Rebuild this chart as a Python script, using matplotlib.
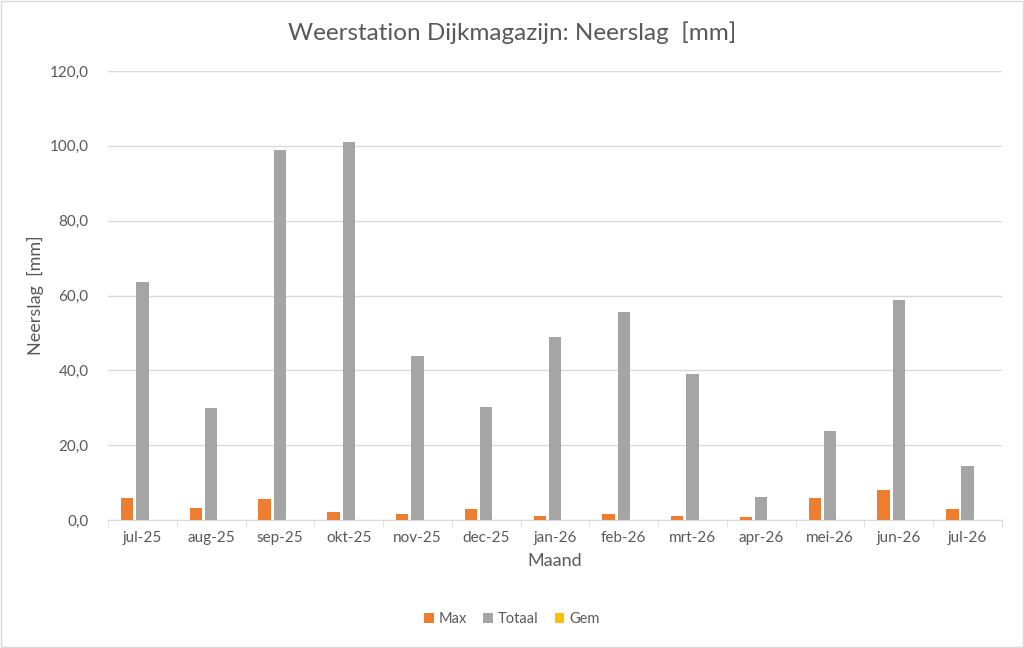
import matplotlib
matplotlib.use("Agg")
import matplotlib.pyplot as plt
import numpy as np
from matplotlib.ticker import FuncFormatter, FixedLocator
from matplotlib.patches import Rectangle

months = ["jul-25", "aug-25", "sep-25", "okt-25", "nov-25", "dec-25", "jan-26",
          "feb-26", "mrt-26", "apr-26", "mei-26", "jun-26", "jul-26"]
max_vals = [6.0, 3.2, 5.7, 2.2, 1.5, 3.0, 1.1, 1.5, 1.1, 0.7, 6.0, 7.9, 3.0]
totaal_vals = [63.7, 29.8, 99.0, 100.9, 43.7, 30.3, 49.0, 55.7, 38.9, 6.2, 23.9, 58.9, 14.4]
gem_vals = [0, 0, 0, 0, 0, 0, 0, 0, 0, 0, 0, 0, 0]

plt.rcParams['font.family'] = ['Lato', 'DejaVu Sans']
txt = '#595959'

fig = plt.figure(figsize=(10.24, 6.48), dpi=100)
fig.patches.append(Rectangle((0.001, 0.001), 0.998, 0.997, transform=fig.transFigure,
                             fill=False, edgecolor='#d9d9d9', linewidth=1))
ax = fig.add_axes([108/1024, 1-520/648, (1002-108)/1024, (520-71)/648])

x = np.arange(len(months))
w = 0.18
off = 0.222
ax.bar(x - off, max_vals, w, color='#ed7d31', label='Max', zorder=3)
ax.bar(x, totaal_vals, w, color='#a5a5a5', label='Totaal', zorder=3)
ax.bar(x + off, gem_vals, w, color='#ffc000', label='Gem', zorder=3)

ax.set_xlim(-0.5, len(months) - 0.5)
ax.set_ylim(0, 120)
ax.set_yticks(np.arange(0, 121, 20))
ax.yaxis.set_major_formatter(FuncFormatter(lambda v, p: f"{v:.1f}".replace('.', ',')))
ax.set_xticks(x)
ax.set_xticklabels(months)
ax.xaxis.set_minor_locator(FixedLocator(np.arange(-0.5, len(months), 1)))
ax.tick_params(axis='x', which='major', length=0, pad=8, labelsize=11, labelcolor=txt)
ax.tick_params(axis='x', which='minor', length=5, color='#d9d9d9')
ax.tick_params(axis='y', length=0, pad=14, labelsize=11, labelcolor=txt)
ax.grid(axis='y', color='#d9d9d9', linewidth=1, zorder=0)
for s in ['top', 'right', 'left']:
    ax.spines[s].set_visible(False)
ax.spines['bottom'].set_color('#d9d9d9')

ax.set_ylabel('Neerslag  [mm]', fontsize=13, color=txt, labelpad=4)
ax.set_xlabel('Maand', fontsize=13, color=txt, labelpad=6)
fig.text(0.5, 1-33/648, 'Weerstation Dijkmagazijn: Neerslag  [mm]', ha='center', va='center',
         fontsize=17.5, color=txt)

leg = fig.legend(loc='center', bbox_to_anchor=(0.5, 1-619/648), ncol=3, frameon=False,
                 fontsize=10.5, handlelength=0.65, handleheight=0.65, handletextpad=0.35,
                 columnspacing=1.1)
for t in leg.get_texts():
    t.set_color(txt)

fig.savefig('out.png', dpi=100)
